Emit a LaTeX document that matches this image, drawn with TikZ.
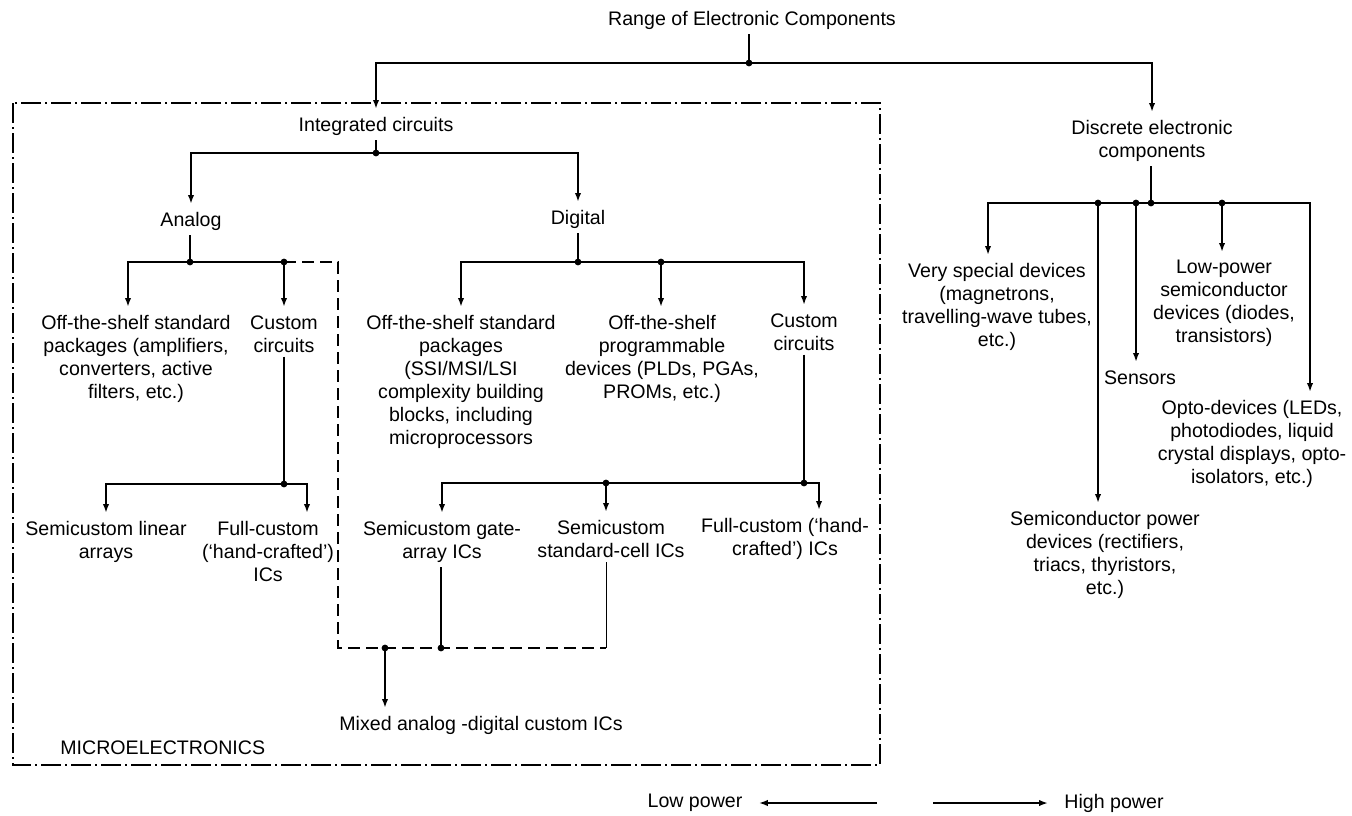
\documentclass[tikz,border=0pt]{standalone}
\usepackage{fontspec}
\setmainfont{Liberation Sans}
\usetikzlibrary{arrows.meta}

\begin{document}
\begin{tikzpicture}[
  x=0.5pt, y=-0.5pt,
  lbl/.style={
    align=center, inner sep=0pt, anchor=north, yshift=3.5pt,
    font=\fontsize{9.8}{11.5}\selectfont
  },
  arr/.style={-{Latex[length=4.5pt,width=3.2pt]}, line width=0.9pt, shorten >=4pt},
  link/.style={line width=0.9pt, shorten <=2pt},
  boundary/.style={line width=0.7pt, dash pattern=on 10pt off 2pt on 1pt off 2pt},
  mixline/.style={line width=0.9pt, dash pattern=on 6pt off 3pt}
]
\useasboundingbox (0,0) rectangle (1352,815);

% Top level
\node[lbl] (title) at (752,18) {Range of Electronic Components};
\node[lbl] (ic) at (376,124) {Integrated circuits};
\node[lbl] (dec) at (1152,127) {Discrete electronic\\components};

% Integrated circuits
\node[lbl] (ana) at (191,219) {Analog};
\node[lbl] (dig) at (578,217) {Digital};
\node[lbl] (ana1) at (136,322) {Off-the-shelf standard\\packages (amplifiers,\\converters, active\\filters, etc.)};
\node[lbl] (ana2) at (284,322) {Custom\\circuits};
\node[lbl] (ana3) at (106,528) {Semicustom linear\\arrays};
\node[lbl] (ana4) at (268,528) {Full-custom\\(`hand-crafted')\\ICs};
\node[lbl] (dig1) at (461,322) {Off-the-shelf standard\\packages\\(SSI/MSI/LSI\\complexity building\\blocks, including\\microprocessors};
\node[lbl] (dig2) at (662,322) {Off-the-shelf\\programmable\\devices (PLDs, PGAs,\\PROMs, etc.)};
\node[lbl] (dig3) at (804,320) {Custom\\circuits};
\node[lbl] (dig4) at (442,528) {Semicustom gate-\\array ICs};
\node[lbl] (dig5) at (611,527) {Semicustom\\standard-cell ICs};
\node[lbl] (dig6) at (785,525) {Full-custom (`hand-\\crafted') ICs};
\node[lbl] (mix) at (481,723) {Mixed analog -digital custom ICs};
\node[lbl, anchor=north west] (micro) at (60,747) {MICROELECTRONICS};

% Discrete components
\node[lbl] (vsd) at (997,270) {Very special devices\\(magnetrons,\\travelling-wave tubes,\\etc.)};
\node[lbl] (lpd) at (1224,267) {Low-power\\semiconductor\\devices (diodes,\\transistors)};
\node[lbl] (sen) at (1140,377) {Sensors};
\node[lbl] (opto) at (1252,407) {Opto-devices (LEDs,\\photodiodes, liquid\\crystal displays, opto-\\isolators, etc.)};
\node[lbl] (spd) at (1105,518) {Semiconductor power\\devices (rectifiers,\\triacs, thyristors,\\etc.)};

% Power scale
\node[lbl] (low) at (695,801) {Low power};
\node[lbl] (high) at (1114,801) {High power};

% Junctions
\coordinate (j0) at (749,63);
\coordinate (j1) at (376,153);
\coordinate (j2) at (190,262);
\coordinate (j3) at (284,262);
\coordinate (j4) at (284,484);
\coordinate (j5) at (578,262);
\coordinate (j6) at (661,262);
\coordinate (j7) at (804,483);
\coordinate (j8) at (385,648);
\coordinate (j9) at (441,648);
\coordinate (j10) at (606,483);
\coordinate (j11) at (1151,203);
\coordinate (j12) at (1098,203);
\coordinate (j13) at (1136,203);
\coordinate (j14) at (1222,203);
\coordinate (d1) at (338,262);
\coordinate (d2) at (338,648);
\coordinate (d3) at (606,648);
\coordinate (lp) at (877,803);
\coordinate (hp) at (933,803);

% Microelectronics boundary
\draw[boundary] (13,103) rectangle (880,765);

% Top branches
\draw[link] (title.south -| j0) -- (j0);
\draw[arr] (j0) -| (ic);
\draw[arr] (j0) -| (dec);

% Integrated circuits tree
\draw[link] (ic) -- (j1);
\draw[arr] (j1) -| (ana);
\draw[arr] (j1) -| (dig);
\draw[link] (ana.south -| j2) -- (j2);
\draw[arr] (j2) -| ([xshift=-4pt]ana1.north);
\draw[arr] (j2) -| (ana2);
\draw[link] (ana2) -- (j4);
\draw[arr] (j4) -| (ana3);
\draw[arr] (j4) -| ([xshift=19.5pt]ana4.north);
\draw[link] (dig.south -| j5) -- (j5);
\draw[arr] (j5) -| (dig1);
\draw[arr] (j6) -- (j6 |- dig2.north);
\draw[arr] (j5) -| (dig3);
\draw[link] (dig3) -- (j7);
\draw[arr] (j7) -| (dig4);
\draw[arr] (j10) -- (j10 |- dig5.north);
\draw[arr] (j7) -| ([xshift=17pt]dig6.north);

% Mixed analog-digital path
\draw[mixline] (j3) -- (d1) -- (d2) -- (d3);
\draw[link] (j9 |- dig4.south) -- (j9);
\draw[line width=0.5pt, shorten <=2pt] (d3 |- dig5.south) -- (d3);
\draw[arr] (j8) -- (j8 |- mix.north);

% Discrete components tree
\draw[link] (dec.south -| j11) -- (j11);
\draw[arr] (j11) -| ([xshift=-4.5pt]vsd.north);
\draw[arr] (j12) -- (j12 |- spd.north);
\draw[arr] (j13) -- (j13 |- sen.north);
\draw[arr] (j14) -- (j14 |- lpd.north);
\draw[arr] (j11) -| ([xshift=29pt]opto.north);

% Power arrows
\draw[arr, shorten >=8pt] (lp) -- (low.east |- lp);
\draw[arr, shorten >=8pt] (hp) -- (high.west |- hp);

% Junction dots
\fill (j0) circle (1.7pt) (j1) circle (1.7pt) (j2) circle (1.7pt)
  (j3) circle (1.7pt) (j4) circle (1.7pt) (j5) circle (1.7pt)
  (j6) circle (1.7pt) (j7) circle (1.7pt) (j8) circle (1.7pt)
  (j9) circle (1.7pt) (j10) circle (1.7pt) (j11) circle (1.7pt)
  (j12) circle (1.7pt) (j13) circle (1.7pt) (j14) circle (1.7pt);
\end{tikzpicture}
\end{document}
